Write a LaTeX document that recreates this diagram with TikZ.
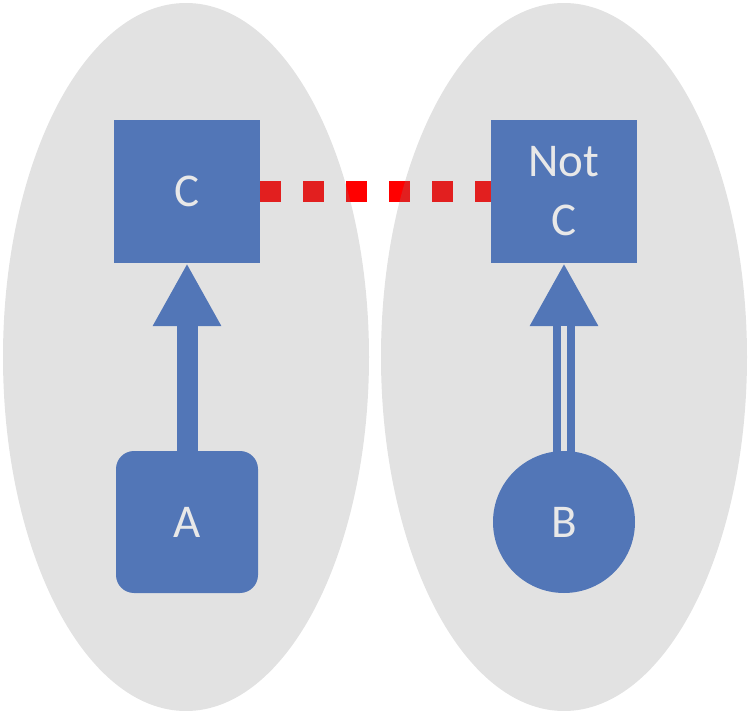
\documentclass[tikz,border=0pt]{standalone}
\usepackage{fontspec}
\setmainfont{Carlito}
\usetikzlibrary{arrows.meta,shapes.geometric}
\definecolor{boxblue}{RGB}{82,118,183}
\definecolor{txtgray}{RGB}{232,232,232}
\definecolor{ellgray}{RGB}{132,132,132}
\definecolor{gapgray}{RGB}{226,226,226}
\tikzset{
  blob/.style={ellipse, fill=ellgray, fill opacity=0.235, minimum width=366pt, minimum height=708pt, inner sep=0pt},
  sqbox/.style={rectangle, fill=boxblue, minimum width=146pt, minimum height=143pt, inner sep=0pt, text=txtgray, align=center, font=\fontsize{47}{59}\selectfont},
  rbox/.style={rectangle, rounded corners=18pt, fill=boxblue, minimum width=142pt, minimum height=142pt, inner sep=0pt, text=txtgray, font=\fontsize{47}{59}\selectfont},
  cbox/.style={circle, fill=boxblue, minimum size=142pt, inner sep=0pt, text=txtgray, font=\fontsize{47}{59}\selectfont},
  fatarrow/.style={draw=boxblue, line width=21pt, -{Triangle[width=64pt,length=63pt]}},
  dotline/.style={draw=red, line width=21pt, dash pattern=on 21pt off 22pt},
}
\begin{document}
\begin{tikzpicture}[x=1pt,y=-1pt]
\useasboundingbox (0,0) rectangle (748,714);
\coordinate (Cc) at (187,191.5);
\coordinate (Nc) at (564,191.5);
% red dotted connector (behind the ellipses)
\path (Cc) ++(73,0) coordinate (Ce);
\path (Nc) ++(-73,0) coordinate (Nw);
\draw[dotline] (Ce) -- (Nw);
% ellipses
\node[blob] (L) at (186,357) {};
\node[blob] (R) at (564,357) {};
% boxes
\node[sqbox] (C) at (Cc) {C};
\node[sqbox] (N) at (Nc) {Not\\C};
\node[rbox] (A) at (187,522) {A};
\node[cbox] (B) at (564,522) {B};
% arrows
\draw[fatarrow] (A.north) -- (C.south);
\draw[fatarrow, line width=22pt] ([yshift=-4pt]B.north) -- (N.south);
\draw[draw=gapgray, line width=6.7pt] (B.north) -- ([yshift=-63pt]N.south);
\end{tikzpicture}
\end{document}
